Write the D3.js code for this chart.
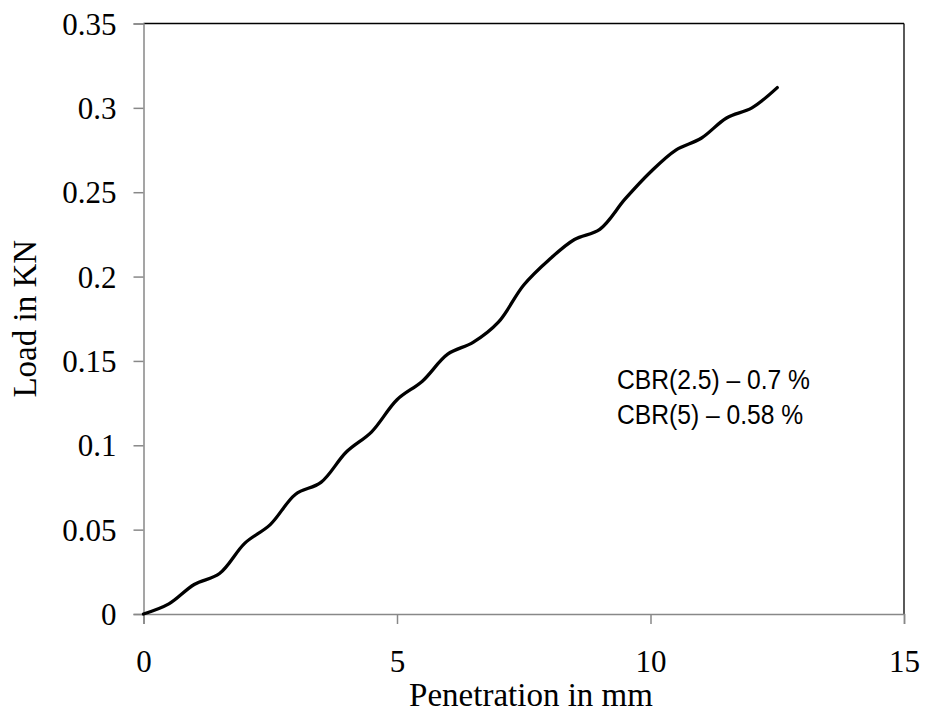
<!DOCTYPE html>
<html>
<head>
<meta charset="utf-8">
<script src="https://cdn.jsdelivr.net/npm/d3@7"></script>
<style>
  html, body { margin: 0; padding: 0; background: #fff; }
  svg { display: block; }
</style>
</head>
<body>
<svg id="chart" width="926" height="713"></svg>
<script>
// ---- data ----
const penetration = [0, 0.5, 1, 1.5, 2, 2.5, 3, 3.5, 4, 4.5, 5, 5.5, 6, 6.5, 7, 7.5, 8, 8.5, 9, 9.5, 10, 10.5, 11, 11.5, 12, 12.5];
const load = [0, 0.006, 0.0175, 0.024, 0.042, 0.053, 0.071, 0.078, 0.096, 0.108, 0.127, 0.138, 0.154, 0.161, 0.173, 0.195, 0.210, 0.222, 0.228, 0.246, 0.262, 0.275, 0.282, 0.294, 0.300, 0.312];
const xTicks = [0, 5, 10, 15];
const yTicks = [0, 0.05, 0.1, 0.15, 0.2, 0.25, 0.3, 0.35];
const xTitle = "Penetration in mm";
const yTitle = "Load in KN";
const notes = ["CBR(2.5) \u2013 0.7 %", "CBR(5) \u2013 0.58 %"];

// ---- layout ----
const mLeft = 143.5, mRight = 904, mTop = 23.5, mBottom = 614;
const svg = d3.select("#chart");
const x = d3.scaleLinear().domain([0, 15]).range([mLeft, mRight]);
const y = d3.scaleLinear().domain([0, 0.35]).range([mBottom, mTop]);

const axisColor = "#888888";
const serif = "'Liberation Serif', 'Times New Roman', serif";

// frame: top and right black
svg.append("line").attr("x1", mLeft).attr("x2", mRight).attr("y1", mTop).attr("y2", mTop)
  .attr("stroke", "#000").attr("stroke-width", 1.3);
svg.append("line").attr("x1", mRight).attr("x2", mRight).attr("y1", mTop).attr("y2", mBottom)
  .attr("stroke", "#000").attr("stroke-width", 1.3);

// y axis
const yAxis = d3.axisLeft(y).tickValues(yTicks).tickSize(10).tickPadding(17)
  .tickFormat(d => String(+d.toFixed(2)));
const gy = svg.append("g").attr("transform", `translate(${mLeft},0)`).call(yAxis);
gy.select(".domain").attr("stroke", axisColor).attr("stroke-width", 1.5);
gy.selectAll(".tick line").attr("stroke", axisColor).attr("stroke-width", 1.5);
gy.selectAll(".tick text").attr("font-family", serif).attr("font-size", 31)
  .attr("fill", "#000").attr("dy", "0.34em");

// x axis
const xAxis = d3.axisBottom(x).tickValues(xTicks).tickSize(10).tickPadding(26)
  .tickFormat(d3.format("d"));
const gx = svg.append("g").attr("transform", `translate(0,${mBottom})`).call(xAxis);
gx.select(".domain").attr("stroke", axisColor).attr("stroke-width", 1.5);
gx.selectAll(".tick line").attr("stroke", axisColor).attr("stroke-width", 1.5);
gx.selectAll(".tick text").attr("font-family", serif).attr("font-size", 31)
  .attr("fill", "#000");

// line
const pts = penetration.map((p, i) => [p, load[i]]);
svg.append("path").datum(pts)
  .attr("fill", "none").attr("stroke", "#000").attr("stroke-width", 3.3)
  .attr("stroke-linejoin", "round").attr("stroke-linecap", "round")
  .attr("d", d3.line().x(d => x(d[0])).y(d => y(d[1])).curve(d3.curveCatmullRom.alpha(0.5)));

// titles
svg.append("text").attr("x", 531).attr("y", 706)
  .attr("text-anchor", "middle").attr("font-family", serif).attr("font-size", 33)
  .attr("fill", "#000").text(xTitle);
svg.append("text").attr("transform", `translate(36,${(mTop + mBottom) / 2}) rotate(-90)`)
  .attr("text-anchor", "middle").attr("font-family", serif).attr("font-size", 33)
  .attr("fill", "#000").text(yTitle);

// annotations (narrow sans emulated by horizontal compression)
const noteG = svg.append("g").attr("transform", "translate(617,0) scale(0.88,1)");
noteG.selectAll("text.note").data(notes).enter().append("text").attr("class", "note")
  .attr("x", 0).attr("y", (d, i) => 389 + i * 35)
  .attr("font-family", "'Liberation Sans', Arial, sans-serif")
  .attr("font-size", 28).attr("fill", "#000").text(d => d);
</script>
</body>
</html>
